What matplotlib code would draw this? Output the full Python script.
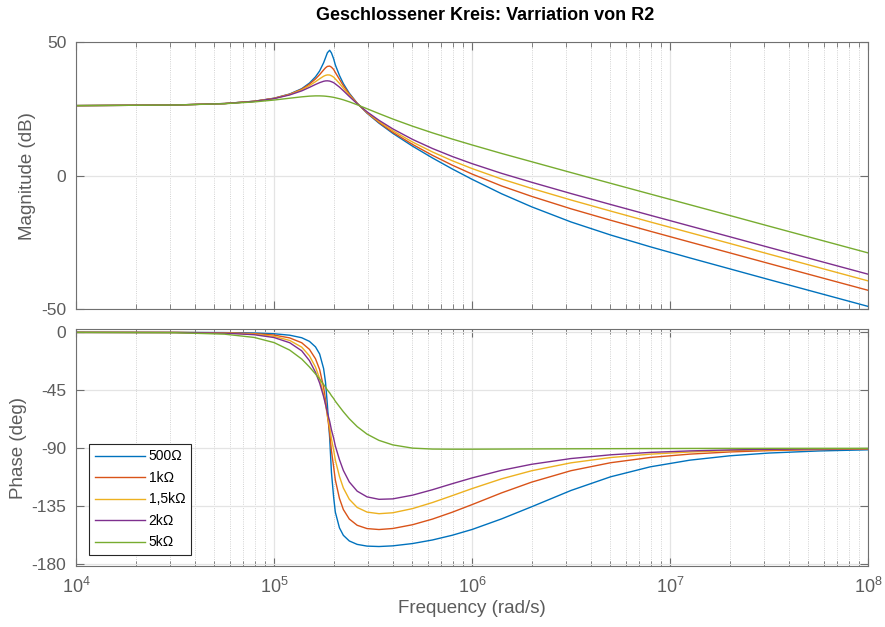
import matplotlib
matplotlib.use("Agg")
import matplotlib.pyplot as plt
from matplotlib.ticker import LogLocator, NullFormatter

plt.rcParams['font.family'] = ['Liberation Sans', 'DejaVu Sans']
plt.rcParams['axes.unicode_minus'] = False
plt.rcParams['mathtext.fontset'] = 'custom'
plt.rcParams['mathtext.rm'] = 'Liberation Sans'
plt.rcParams['mathtext.default'] = 'rm'

# Frequenz (rad/s)
freq = [1.0e4, 3.16e4, 5.62e4, 7.94e4, 1.0e5, 1.20e5, 1.38e5, 1.51e5, 1.62e5, 1.70e5,
        1.78e5, 1.82e5, 1.86e5, 1.91e5, 1.95e5, 2.00e5, 2.04e5, 2.14e5, 2.24e5, 2.40e5,
        2.63e5, 2.95e5, 3.39e5, 3.98e5, 5.01e5, 6.31e5, 7.94e5, 1.0e6, 1.41e6, 2.0e6,
        3.16e6, 5.01e6, 7.94e6, 1.26e7, 2.0e7, 3.16e7, 5.62e7, 1.0e8]

# Betrag (dB)
mag_500 = [26.22, 26.44, 27.0, 27.85, 28.98, 30.56, 32.55, 34.65, 36.99, 39.19,
           42.23, 44.11, 45.98, 46.91, 45.92, 43.75, 41.44, 37.51, 34.44, 30.85,
           27.13, 23.39, 19.65, 15.86, 11.05, 6.66, 2.56, -1.32, -6.73, -11.61,
           -17.27, -22.15, -26.55, -30.72, -34.79, -38.82, -43.83, -48.84]
mag_1k = [26.22, 26.44, 26.99, 27.84, 28.95, 30.48, 32.37, 34.25, 36.20, 37.81,
          39.56, 40.35, 40.88, 41.00, 40.60, 39.75, 38.61, 36.08, 33.68, 30.54,
          27.08, 23.51, 19.91, 16.26, 11.70, 7.64, 3.97, 0.64, -3.81, -7.71,
          -12.35, -16.63, -20.74, -24.79, -28.81, -32.81, -37.82, -42.82]
mag_1k5 = [26.22, 26.44, 26.98, 27.82, 28.90, 30.36, 32.08, 33.69, 35.18, 36.25,
           37.20, 37.53, 37.70, 37.66, 37.38, 36.88, 36.20, 34.53, 32.73, 30.11,
           27.01, 23.69, 20.28, 16.84, 12.59, 8.90, 5.62, 2.69, -1.22, -4.73,
           -9.06, -13.20, -17.26, -21.28, -25.29, -29.29, -34.30, -39.30]
mag_2k = [26.22, 26.44, 26.98, 27.80, 28.84, 30.21, 31.73, 33.04, 34.13, 34.81,
          35.32, 35.46, 35.49, 35.39, 35.16, 34.81, 34.34, 33.15, 31.78, 29.64,
          26.93, 23.90, 20.73, 17.52, 13.58, 10.19, 7.21, 4.53, 0.90, -2.44,
          -6.65, -10.74, -14.77, -18.79, -22.79, -26.79, -31.80, -36.80]
mag_5k = [26.22, 26.44, 26.93, 27.60, 28.30, 28.99, 29.50, 29.76, 29.86, 29.86,
          29.80, 29.74, 29.66, 29.56, 29.45, 29.31, 29.16, 28.80, 28.38, 27.64,
          26.54, 25.05, 23.24, 21.21, 18.52, 16.04, 13.72, 11.52, 8.34, 5.25,
          1.20, -2.82, -6.83, -10.84, -14.84, -18.84, -23.84, -28.84]

# Phase (deg)
ph_500 = [0.0, -0.02, -0.15, -0.46, -1.05, -2.18, -4.15, -6.97, -11.26, -16.78,
          -28.05, -38.72, -56.18, -81.87, -108.72, -127.81, -139.58, -151.77, -157.59, -161.96,
          -164.62, -165.96, -166.28, -165.76, -163.96, -161.20, -157.54, -153.06, -144.83, -135.41,
          -122.76, -112.14, -104.41, -99.21, -95.84, -93.69, -92.08, -91.17]
ph_1k = [0.0, -0.05, -0.30, -0.92, -2.07, -4.29, -8.04, -13.19, -20.50, -28.87,
         -42.59, -52.41, -64.47, -78.10, -91.91, -104.30, -114.59, -128.92, -137.58, -144.93,
         -149.78, -152.35, -153.09, -152.28, -149.34, -144.98, -139.66, -133.75, -124.63, -116.28,
         -107.40, -101.21, -97.13, -94.52, -92.85, -91.80, -91.01, -90.57]
ph_1k5 = [0.0, -0.07, -0.44, -1.36, -3.06, -6.25, -11.45, -18.23, -26.97, -35.86,
          -48.31, -55.97, -64.50, -73.54, -82.64, -91.26, -99.12, -111.82, -120.85, -129.59,
          -135.93, -139.54, -140.79, -140.07, -136.82, -132.13, -126.79, -121.31, -113.73, -107.45,
          -101.29, -97.19, -94.56, -92.88, -91.82, -91.15, -90.65, -90.36]
ph_2k = [0.0, -0.10, -0.59, -1.80, -3.99, -8.03, -14.30, -21.96, -30.99, -39.35,
         -49.87, -55.91, -62.34, -68.98, -75.65, -82.08, -88.16, -98.81, -107.20, -116.14,
         -123.28, -127.73, -129.62, -129.28, -126.39, -122.18, -117.51, -113.03, -107.11, -102.42,
         -97.96, -95.06, -93.20, -92.02, -91.27, -90.80, -90.45, -90.25]
ph_5k = [0.0, -0.24, -1.37, -3.91, -7.90, -13.75, -20.68, -26.86, -32.28, -36.25,
         -40.44, -42.59, -44.76, -46.95, -49.14, -51.31, -53.46, -57.65, -61.62, -67.05,
         -73.15, -79.01, -83.86, -87.37, -89.88, -90.60, -90.70, -90.70, -90.60, -90.50,
         -90.40, -90.30, -90.21, -90.13, -90.08, -90.05, -90.03, -90.02]

labels = ['500Ω', '1kΩ', '1,5kΩ', '2kΩ', '5kΩ']
colors = ['#0072BD', '#D95319', '#EDB120', '#7E2F8E', '#77AC30']
mags = [mag_500, mag_1k, mag_1k5, mag_2k, mag_5k]
phases = [ph_500, ph_1k, ph_1k5, ph_2k, ph_5k]

grau = '#5c5c5c'

fig = plt.figure(figsize=(8.85, 6.27), dpi=100)
ax1 = fig.add_axes([0.0859, 0.5064, 0.8949, 0.4266])
ax2 = fig.add_axes([0.0859, 0.0973, 0.8949, 0.3775])

for m, p, c, lab in zip(mags, phases, colors, labels):
    ax1.plot(freq, m, color=c, lw=1.0)
    ax2.plot(freq, p, color=c, lw=1.0, label=lab)


def achse(ax):
    ax.set_xscale('log')
    ax.set_xlim(1e4, 1e8)
    ax.set_xticks([1e4, 1e5, 1e6, 1e7, 1e8])
    ax.xaxis.set_minor_locator(LogLocator(base=10, subs=range(2, 10), numticks=20))
    ax.xaxis.set_minor_formatter(NullFormatter())
    ax.tick_params(which='both', direction='in', top=True, right=True,
                   color='#6e6e6e', labelcolor=grau, labelsize=12.5)
    ax.tick_params(which='major', length=6, width=0.8)
    ax.tick_params(which='minor', length=3.5, width=0.6)
    ax.tick_params(axis='y', pad=7)
    ax.grid(which='major', color='#e4e4e4', lw=0.9, ls='-')
    ax.grid(which='minor', axis='x', color='#c4c4c4', lw=0.6, ls=':')
    ax.set_axisbelow(True)
    for s in ax.spines.values():
        s.set_color('#707070')
        s.set_linewidth(0.8)


achse(ax1)
achse(ax2)

ax1.set_ylim(-50, 50)
ax1.set_yticks([-50, 0, 50])
ax1.tick_params(labelbottom=False)
ax1.set_ylabel('Magnitude (dB)', color=grau, fontsize=13.5)
ax1.yaxis.set_label_coords(-0.05, 0.5)

ax2.set_ylim(-181.4, 2.4)
ax2.set_yticks([-180, -135, -90, -45, 0])
ax2.set_xticklabels(['$10^{4}$', '$10^{5}$', '$10^{6}$', '$10^{7}$', '$10^{8}$'])
ax2.tick_params(axis='x', pad=8, labelsize=13)
ax2.set_ylabel('Phase (deg)', color=grau, fontsize=13.5)
ax2.yaxis.set_label_coords(-0.062, 0.5)
ax2.set_xlabel('Frequency (rad/s)', color=grau, fontsize=13.5)
ax2.xaxis.set_label_coords(0.5, -0.145)

leg = ax2.legend(loc='lower left', bbox_to_anchor=(0.0164, 0.0465), borderaxespad=0,
                 fontsize=10, handlelength=3.6, handletextpad=0.3, labelspacing=0.54,
                 borderpad=0.4, fancybox=False, framealpha=1)
leg.get_frame().set_edgecolor('#262626')
leg.get_frame().set_linewidth(0.8)

fig.text(485 / 885, 1 - 16 / 627, 'Geschlossener Kreis: Varriation von R2',
         ha='center', va='center', fontsize=13, fontweight='bold')

fig.savefig('out.png', dpi=100, facecolor='white')
